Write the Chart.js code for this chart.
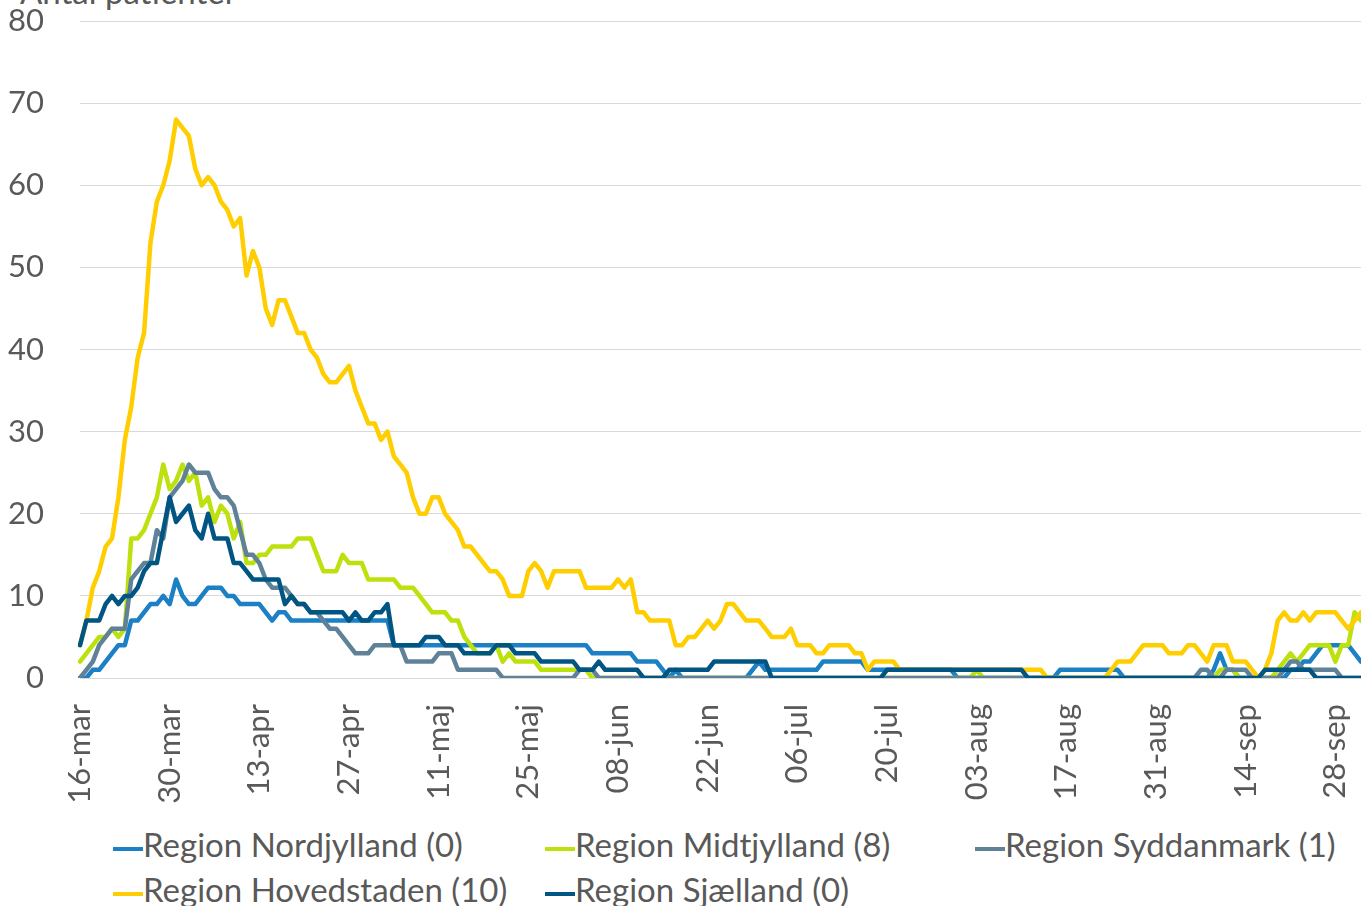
<!DOCTYPE html>
<html>
<head>
<meta charset="utf-8">
<script src="https://cdn.jsdelivr.net/npm/chart.js@4.4.0/dist/chart.umd.min.js"></script>
<style>
  body { margin: 0; background: #fff; width: 1361px; height: 906px; overflow: hidden; position: relative; font-family: Lato, sans-serif; color: #595959; }
  #wrap { position: absolute; left: 0; top: 0; width: 1361px; height: 820px; }
  #title { position: absolute; left: 20px; top: -25px; font-size: 33px; line-height: 33px; white-space: nowrap; }
  .legend-item { position: absolute; font-size: 33px; line-height: 40px; white-space: nowrap; }
  .legend-item .mark { display: inline-block; width: 30px; height: 4px; vertical-align: middle; }
</style>
</head>
<body>
<div id="title">Antal patienter</div>
<div id="wrap"><canvas id="chart"></canvas></div>
<div id="legend"></div>
<script>
// daily values from 16-mar-2020
const startDate = [2020, 2, 16];
const monthNames = ['jan', 'feb', 'mar', 'apr', 'maj', 'jun', 'jul', 'aug', 'sep', 'okt', 'nov', 'dec'];

const nordjylland = [
  0, 0, 1, 1, 2, 3, 4, 4, 7, 7,
  8, 9, 9, 10, 9, 12, 10, 9, 9, 10,
  11, 11, 11, 10, 10, 9, 9, 9, 9, 8,
  7, 8, 8, 7, 7, 7, 7, 7, 7, 7,
  7, 7, 7, 7, 7, 7, 7, 7, 7, 4,
  4, 4, 4, 4, 4, 4, 4, 4, 4, 4,
  4, 4, 4, 4, 4, 4, 4, 4, 4, 4,
  4, 4, 4, 4, 4, 4, 4, 4, 4, 4,
  3, 3, 3, 3, 3, 3, 3, 2, 2, 2,
  2, 1, 0, 1, 0, 0, 0, 0, 0, 0,
  0, 0, 0, 0, 0, 1, 2, 1, 1, 1,
  1, 1, 1, 1, 1, 1, 2, 2, 2, 2,
  2, 2, 2, 1, 1, 1, 1, 1, 1, 1,
  1, 1, 1, 1, 1, 1, 1, 0, 0, 0,
  0, 0, 0, 0, 0, 0, 0, 0, 0, 0,
  0, 0, 0, 1, 1, 1, 1, 1, 1, 1,
  1, 1, 1, 0, 0, 0, 0, 0, 0, 0,
  0, 0, 0, 0, 0, 0, 0, 1, 3, 1,
  1, 0, 0, 0, 0, 0, 0, 0, 0, 1,
  1, 2, 2, 3, 4, 4, 4, 4, 4, 3,
  2
];

const midtjylland = [
  2, 3, 4, 5, 5, 6, 5, 6, 17, 17,
  18, 20, 22, 26, 23, 24, 26, 24, 25, 21,
  22, 19, 21, 20, 17, 19, 14, 14, 15, 15,
  16, 16, 16, 16, 17, 17, 17, 15, 13, 13,
  13, 15, 14, 14, 14, 12, 12, 12, 12, 12,
  11, 11, 11, 10, 9, 8, 8, 8, 7, 7,
  5, 4, 3, 3, 3, 4, 2, 3, 2, 2,
  2, 2, 1, 1, 1, 1, 1, 1, 1, 1,
  0, 0, 0, 0, 0, 0, 0, 0, 0, 0,
  0, 0, 0, 0, 0, 0, 0, 0, 0, 0,
  0, 0, 0, 0, 0, 0, 0, 0, 0, 0,
  0, 0, 0, 0, 0, 0, 0, 0, 0, 0,
  0, 0, 0, 0, 0, 0, 0, 0, 0, 0,
  0, 0, 0, 0, 0, 0, 0, 0, 0, 0,
  1, 0, 0, 0, 0, 0, 0, 0, 0, 0,
  0, 0, 0, 0, 0, 0, 0, 0, 0, 0,
  0, 0, 0, 0, 0, 0, 0, 0, 0, 0,
  0, 0, 0, 0, 0, 0, 0, 0, 1, 1,
  1, 0, 0, 0, 0, 0, 0, 1, 2, 3,
  2, 3, 4, 4, 4, 4, 2, 4, 4, 8,
  7
];

const syddanmark = [
  0, 1, 2, 4, 5, 6, 6, 6, 12, 13,
  14, 14, 18, 17, 22, 23, 24, 26, 25, 25,
  25, 23, 22, 22, 21, 18, 15, 15, 14, 12,
  11, 11, 11, 10, 9, 9, 8, 8, 7, 6,
  6, 5, 4, 3, 3, 3, 4, 4, 4, 4,
  4, 2, 2, 2, 2, 2, 3, 3, 3, 1,
  1, 1, 1, 1, 1, 1, 0, 0, 0, 0,
  0, 0, 0, 0, 0, 0, 0, 0, 1, 1,
  1, 0, 0, 0, 0, 0, 0, 0, 0, 0,
  0, 0, 0, 0, 0, 0, 0, 0, 0, 0,
  0, 0, 0, 0, 0, 0, 0, 0, 0, 0,
  0, 0, 0, 0, 0, 0, 0, 0, 0, 0,
  0, 0, 0, 0, 0, 0, 0, 0, 0, 0,
  0, 0, 0, 0, 0, 0, 0, 0, 0, 0,
  0, 0, 0, 0, 0, 0, 0, 0, 0, 0,
  0, 0, 0, 0, 0, 0, 0, 0, 0, 0,
  0, 0, 0, 0, 0, 0, 0, 0, 0, 0,
  0, 0, 0, 0, 0, 1, 1, 0, 0, 1,
  1, 1, 1, 0, 0, 0, 0, 0, 1, 2,
  2, 1, 1, 1, 1, 1, 1, 0, 0, 0,
  0
];

const hovedstaden = [
  4, 7, 11, 13, 16, 17, 22, 29, 33, 39,
  42, 53, 58, 60, 63, 68, 67, 66, 62, 60,
  61, 60, 58, 57, 55, 56, 49, 52, 50, 45,
  43, 46, 46, 44, 42, 42, 40, 39, 37, 36,
  36, 37, 38, 35, 33, 31, 31, 29, 30, 27,
  26, 25, 22, 20, 20, 22, 22, 20, 19, 18,
  16, 16, 15, 14, 13, 13, 12, 10, 10, 10,
  13, 14, 13, 11, 13, 13, 13, 13, 13, 11,
  11, 11, 11, 11, 12, 11, 12, 8, 8, 7,
  7, 7, 7, 4, 4, 5, 5, 6, 7, 6,
  7, 9, 9, 8, 7, 7, 7, 6, 5, 5,
  5, 6, 4, 4, 4, 3, 3, 4, 4, 4,
  4, 3, 3, 1, 2, 2, 2, 2, 1, 1,
  1, 1, 1, 1, 1, 1, 1, 1, 1, 1,
  1, 1, 1, 1, 1, 1, 1, 1, 1, 1,
  1, 0, 0, 0, 0, 0, 0, 0, 0, 0,
  0, 1, 2, 2, 2, 3, 4, 4, 4, 4,
  3, 3, 3, 4, 4, 3, 2, 4, 4, 4,
  2, 2, 2, 1, 0, 1, 3, 7, 8, 7,
  7, 8, 7, 8, 8, 8, 8, 7, 6, 7,
  8
];

const sjaelland = [
  4, 7, 7, 7, 9, 10, 9, 10, 10, 11,
  13, 14, 14, 18, 22, 19, 20, 21, 18, 17,
  20, 17, 17, 17, 14, 14, 13, 12, 12, 12,
  12, 12, 9, 10, 9, 9, 8, 8, 8, 8,
  8, 8, 7, 8, 7, 7, 8, 8, 9, 4,
  4, 4, 4, 4, 5, 5, 5, 4, 4, 4,
  3, 3, 3, 3, 3, 4, 4, 4, 3, 3,
  3, 3, 2, 2, 2, 2, 2, 2, 1, 1,
  1, 2, 1, 1, 1, 1, 1, 1, 0, 0,
  0, 0, 1, 1, 1, 1, 1, 1, 1, 2,
  2, 2, 2, 2, 2, 2, 2, 2, 0, 0,
  0, 0, 0, 0, 0, 0, 0, 0, 0, 0,
  0, 0, 0, 0, 0, 0, 1, 1, 1, 1,
  1, 1, 1, 1, 1, 1, 1, 1, 1, 1,
  1, 1, 1, 1, 1, 1, 1, 1, 0, 0,
  0, 0, 0, 0, 0, 0, 0, 0, 0, 0,
  0, 0, 0, 0, 0, 0, 0, 0, 0, 0,
  0, 0, 0, 0, 0, 0, 0, 0, 0, 0,
  0, 0, 0, 0, 0, 1, 1, 1, 1, 1,
  1, 1, 1, 0, 0, 0, 0, 0, 0, 0,
  0
];

const seriesNames = ['Region Nordjylland (0)', 'Region Midtjylland (8)', 'Region Syddanmark (1)', 'Region Hovedstaden (10)', 'Region Sjælland (0)'];
const seriesData = [nordjylland, midtjylland, syddanmark, hovedstaden, sjaelland];
const seriesColors = ['#1b80c4', '#bde10d', '#5f8299', '#ffce00', '#005582'];

const categories = [];
for (let i = 0; i < hovedstaden.length; i++) {
    const d = new Date(Date.UTC(startDate[0], startDate[1], startDate[2] + i));
    categories.push(String(d.getUTCDate()).padStart(2, '0') + '-' + monthNames[d.getUTCMonth()]);
}

const textColor = '#595959';
const font = { family: 'Lato, sans-serif', size: 31 };

const ctx = document.getElementById('chart').getContext('2d');
const chart = new Chart(ctx, {
    type: 'line',
    data: {
        labels: categories,
        datasets: seriesData.map((data, i) => ({
            label: seriesNames[i],
            data: data,
            borderColor: seriesColors[i],
            backgroundColor: seriesColors[i],
            order: seriesData.length - i
        }))
    },
    options: {
        responsive: true,
        maintainAspectRatio: false,
        animation: false,
        layout: { padding: { top: 21, right: 0, left: 0, bottom: 0 } },
        elements: {
            point: { radius: 0 },
            line: { borderWidth: 4.5, tension: 0, borderJoinStyle: 'round', borderCapStyle: 'round' }
        },
        plugins: {
            legend: { display: false },
            tooltip: { enabled: false }
        },
        scales: {
            x: {
                grid: { display: false },
                border: { display: false },
                ticks: {
                    autoSkip: false,
                    minRotation: 90,
                    maxRotation: 90,
                    padding: 18,
                    color: textColor,
                    font: font,
                    callback: function (value, index) {
                        return index % 14 === 0 ? this.getLabelForValue(value) : '';
                    }
                },
                afterFit: scale => {
                    scale.height = 142;
                    scale.paddingLeft = 0;
                    scale.paddingRight = 0;
                }
            },
            y: {
                min: 0,
                max: 80,
                ticks: { stepSize: 10, padding: 36, color: textColor, font: font },
                grid: { color: '#d9d9d9', lineWidth: 1, drawTicks: false },
                border: { display: false },
                afterFit: scale => {
                    scale.width = 80;
                    scale.paddingTop = 0;
                    scale.paddingBottom = 0;
                }
            }
        }
    }
});

// legend laid out in columns like the original
const legendPos = [[113, 824], [545, 824], [975, 824], [113, 869], [545, 869]];
const legendElem = document.getElementById('legend');
seriesNames.forEach((name, i) => {
    const item = document.createElement('div');
    item.className = 'legend-item';
    item.style.left = legendPos[i][0] + 'px';
    item.style.top = legendPos[i][1] + 'px';
    item.innerHTML = `<span class="mark" style="background:${seriesColors[i]}"></span>${name}`;
    legendElem.appendChild(item);
});
</script>
</body>
</html>
